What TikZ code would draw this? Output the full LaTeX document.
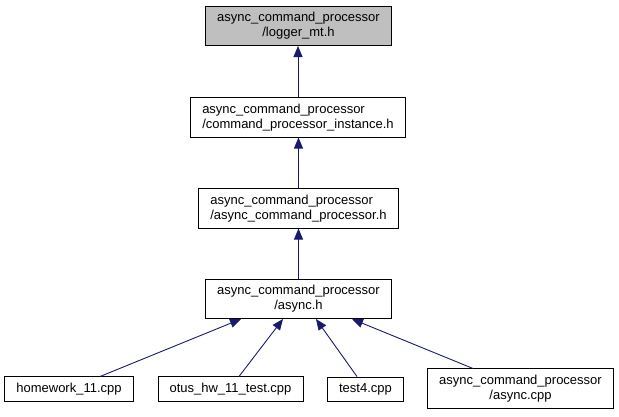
\documentclass[tikz,border=0pt]{standalone}
\usepackage{fontspec}
\setmainfont{Liberation Sans}
\usepackage{tikz}
\usetikzlibrary{arrows.meta}
\definecolor{edgeblue}{RGB}{25,25,112}
\definecolor{filegray}{RGB}{191,191,191}
\tikzset{
  file/.style={draw=black,line width=0.9pt,inner xsep=11.5pt,inner ysep=6pt,minimum height=24pt,
    font=\fontsize{13}{15}\selectfont,align=center},
  file left/.style={file,align=left},
  file root/.style={file,fill=filegray},
  incl/.style={edgeblue,line width=0.9pt,-{Triangle[length=11pt,width=9pt]}}
}
\begin{document}
\begin{tikzpicture}[x=1pt,y=-1pt]
  \useasboundingbox (0,0) rectangle (619,416);

  % Headers
  \node[file root] (logger) at (298.5,26) {async\_command\_processor\\/logger\_mt.h};
  \node[file left] (instance) at (298,117.5) {async\_command\_processor\\/command\_processor\_instance.h};
  \node[file left] (acp) at (298.5,208.5) {async\_command\_processor\\/async\_command\_processor.h};
  \node[file] (asynch) at (298.5,299) {async\_command\_processor\\/async.h};

  % Sources
  \node[file] (homework) at (69,389) {homework\_11.cpp};
  \node[file] (otus) at (230.5,389) {otus\_hw\_11\_test.cpp};
  \node[file] (test) at (365.5,389) {test4.cpp};
  \node[file] (asynccpp) at (520.5,388.5) {async\_command\_processor\\/async.cpp};

  % Include edges
  \draw[incl] (instance.north) -- (instance.north |- logger.south);
  \draw[incl] (acp.north) -- (acp.north |- instance.south);
  \draw[incl] (asynch.north) -- (asynch.north |- acp.south);
  \draw[incl] ([xshift=31pt]homework.north) -- ([xshift=-57.5pt]asynch.south);
  \draw[incl] ([xshift=8.5pt]otus.north) -- ([xshift=-15.5pt]asynch.south);
  \draw[incl] ([xshift=-8.5pt]test.north) -- ([xshift=17.5pt]asynch.south);
  \draw[incl] ([xshift=-47.5pt]asynccpp.north) -- ([xshift=53.5pt]asynch.south);
\end{tikzpicture}
\end{document}
